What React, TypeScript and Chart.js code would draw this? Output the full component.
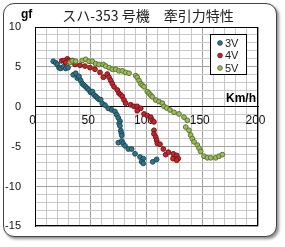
import React, { useEffect, useRef } from 'react';
import { Chart, registerables } from 'chart.js';

Chart.register(...registerables);

const chartTitle = 'スハ-353 号機　牽引力特性';
const yUnit = 'gf';
const xUnit = 'Km/h';
const seriesNames = ['3V', '4V', '5V'];

const x3V = [16.4, 18.6, 20, 21.5, 23, 25.4, 27.5, 29.6, 34.3, 36.5, 37.9, 39.5, 41, 42.4, 43.9, 45.5, 46.9, 48.4, 49.9, 51.5, 52.9, 54.5, 55.9, 57.5, 58.9, 60.4, 62.8, 65.7, 68.8, 71.7, 73.3, 74.7, 76.2, 75.5, 76.2, 76.9, 77.4, 77.8, 74.7, 77.8, 79, 80.7, 83.7, 86.7, 89.7, 94.2, 97.1, 95.7, 97.1, 105.6, 109.1];
const y3V = [5.7, 5.5, 5.3, 4.9, 4.8, 5.0, 4.8, 4.9, 4.0, 4.2, 3.6, 3.8, 3.3, 2.9, 2.7, 2.5, 2.3, 2.1, 1.8, 1.9, 1.5, 1.3, 1.1, 0.9, 0.9, 0.4, 0.2, -0.2, -0.4, -0.6, -1.0, -1.4, -1.8, -2.1, -2.4, -3.0, -3.3, -3.6, -4.5, -4.3, -4.6, -4.9, -5.3, -5.3, -5.9, -6.3, -6.5, -6.9, -7.1, -6.9, -6.6];

const x4V = [23.9, 26, 29, 30.5, 33.5, 27.5, 35.9, 40.4, 44.8, 49.3, 53.8, 58.3, 61.3, 64.8, 66.4, 67.9, 69.3, 70.9, 73.8, 75.3, 76.9, 78.3, 79.8, 81.3, 85.8, 88.8, 91.7, 94.8, 91.7, 97.8, 100.7, 103.8, 105.2, 106.7, 106.7, 106.7, 108.3, 109.1, 109.7, 112.1, 115.1, 117.2, 119.6, 123.8, 124, 127.1, 128.5, 127.1];
const y4V = [5.75, 5.8, 6.0, 5.75, 5.8, 5.55, 5.3, 5.2, 5.1, 4.9, 4.7, 4.3, 3.7, 4.1, 3.7, 3.3, 2.9, 2.5, 2.1, 1.7, 1.5, 1.3, 0.85, 0.45, 0.25, 0.05, 0.05, -0.2, -0.5, -0.9, -1.1, -1.3, -1.7, -1.9, -2.95, -3.4, -3.8, -4.2, -4.6, -4.7, -5.3, -6.0, -5.7, -6.5, -5.9, -6.1, -6.5, -6.7];

const x5V = [31.4, 33.5, 36.5, 42.4, 45.5, 48.4, 51.4, 54.4, 57.4, 61.3, 63.4, 66.4, 69.3, 72.4, 75.3, 78.3, 81.3, 84.3, 90.3, 91.7, 93.3, 94.8, 96.2, 97.8, 100.7, 102.2, 103.8, 105.2, 108.3, 111.2, 114.2, 115.7, 118.1, 121.1, 124.7, 129.1, 133.6, 136.6, 135.2, 138.1, 139.6, 141.1, 142.6, 145.6, 147.1, 148.6, 151.6, 154.5, 157.6, 162.1, 165, 168];
const y5V = [5.55, 5.75, 5.7, 5.8, 5.95, 5.7, 5.7, 5.4, 5.3, 5.3, 5.1, 4.9, 4.7, 4.7, 4.5, 4.5, 4.3, 4.2, 3.9, 3.7, 3.3, 2.9, 2.7, 2.5, 1.9, 1.7, 1.45, 1.25, 0.85, 0.65, 0.45, 0.05, -0.15, -0.4, -0.7, -0.9, -1.3, -1.7, -2.55, -2.95, -3.55, -4.0, -4.4, -4.8, -5.2, -5.6, -6.2, -6.4, -6.4, -6.4, -6.2, -6.0];

const fills = ['#2f7488', '#c0282c', '#9cbb5a'];
const borders = ['#1d4a57', '#7a1518', '#5c7430'];

const pairs = (xs: number[], ys: number[]) => xs.map((x, i) => ({ x, y: ys[i] }));

const decorPlugin = {
  id: 'decor',
  beforeDatasetsDraw(chart: any) {
    const { ctx, chartArea: a } = chart;
    ctx.save();
    ctx.strokeStyle = '#000';
    ctx.lineWidth = 1;
    const l = Math.round(a.left) + 0.5;
    const t = Math.round(a.top) + 0.5;
    const r = Math.round(a.right) - 0.5;
    const b = Math.round(a.bottom) - 0.5;
    ctx.strokeRect(l, t, r - l, b - t);
    ctx.restore();
  },
  afterDraw(chart: any) {
    const { ctx } = chart;
    ctx.save();
    ctx.fillStyle = '#222';
    ctx.font = '14px "Noto Sans CJK JP", sans-serif';
    ctx.textAlign = 'center';
    ctx.textBaseline = 'middle';
    ctx.fillText(chartTitle, 148, 16);
    ctx.font = 'bold 12px "Liberation Sans", sans-serif';
    ctx.textAlign = 'left';
    ctx.textBaseline = 'alphabetic';
    ctx.fillStyle = '#000';
    ctx.fillText(yUnit, 21, 18);
    ctx.font = 'bold 12px "Liberation Sans", sans-serif';
    ctx.textAlign = 'right';
    ctx.fillText(xUnit, 256, 102);
    const lx = 210.5, ly = 34.5, lw = 36, lh = 40;
    ctx.fillStyle = '#fff';
    ctx.fillRect(lx, ly, lw, lh);
    ctx.strokeStyle = '#000';
    ctx.lineWidth = 1;
    ctx.strokeRect(lx, ly, lw, lh);
    ctx.font = '11px "Liberation Sans", sans-serif';
    ctx.textAlign = 'left';
    ctx.textBaseline = 'middle';
    seriesNames.forEach((name, i) => {
      const cy = 43 + i * 12.5;
      ctx.beginPath();
      ctx.arc(220, cy, 2.3, 0, Math.PI * 2);
      ctx.fillStyle = fills[i];
      ctx.fill();
      ctx.strokeStyle = borders[i];
      ctx.lineWidth = 1;
      ctx.stroke();
      ctx.fillStyle = '#222';
      ctx.fillText(name, 225, cy + 0.5);
    });
    ctx.restore();
  },
};

export default function App() {
  const ref = useRef<HTMLCanvasElement | null>(null);
  useEffect(() => {
    if (!ref.current) return;
    const gridColor = (v: number, major: number) => (Math.abs(v % major) < 1e-6 ? '#a0a0a0' : '#c8c8c8');
    const chart = new Chart(ref.current, {
      type: 'scatter',
      data: {
        datasets: [
          { label: seriesNames[0], data: pairs(x3V, y3V), backgroundColor: fills[0], borderColor: borders[0], order: 3 },
          { label: seriesNames[1], data: pairs(x4V, y4V), backgroundColor: fills[1], borderColor: borders[1], order: 2 },
          { label: seriesNames[2], data: pairs(x5V, y5V), backgroundColor: fills[2], borderColor: borders[2], order: 1 },
        ] as any,
      },
      options: {
        animation: false,
        responsive: false,
        devicePixelRatio: 1,
        layout: { padding: { left: 0, right: 27, top: 27, bottom: 16 } },
        elements: { point: { radius: 2.4, borderWidth: 1, hoverRadius: 2.4 } },
        plugins: { legend: { display: false }, title: { display: false }, tooltip: { enabled: false } },
        scales: {
          x: {
            type: 'linear',
            position: { y: 0 } as any,
            min: 0,
            max: 200,
            border: { display: true, color: '#000', width: 1 },
            grid: {
              drawTicks: false,
              color: (c: any) => gridColor(c.tick.value, 50),
              lineWidth: 1,
            },
            ticks: {
              stepSize: 10,
              autoSkip: false,
              maxRotation: 0,
              padding: 7,
              labelOffset: -2.5,
              color: '#111',
              font: { family: '"Liberation Sans Narrow", "Liberation Sans", sans-serif', size: 12 },
              callback: (v: any) => (Number(v) % 50 === 0 ? String(v) : ''),
            },
          },
          y: {
            type: 'linear',
            position: 'left',
            min: -15,
            max: 10,
            afterFit: (s: any) => {
              s.width = 35;
            },
            border: { display: true, color: '#000', width: 1 },
            grid: {
              drawTicks: false,
              color: (c: any) => gridColor(c.tick.value, 5),
              lineWidth: 1,
            },
            ticks: {
              stepSize: 1,
              autoSkip: false,
              padding: 14,
              color: '#111',
              font: { family: '"Liberation Sans", sans-serif', size: 11 },
              callback: (v: any) => (Number(v) % 5 === 0 ? String(v) : ''),
            },
          },
        },
      },
      plugins: [decorPlugin],
    });
    return () => chart.destroy();
  }, []);

  return (
    <div style={{ position: 'fixed', left: 0, top: 0, width: 285, height: 247, background: '#fff' }}>
      <div
        style={{
          position: 'absolute',
          left: 3,
          top: 3,
          width: 272,
          height: 232,
          border: '1px solid #444',
          borderRadius: 11,
          boxShadow: '2px 2px 3px rgba(0,0,0,0.45)',
          background: '#fff',
        }}
      />
      <canvas ref={ref} width={285} height={247} style={{ position: 'absolute', left: 0, top: 0, width: 285, height: 247 }} />
    </div>
  );
}
